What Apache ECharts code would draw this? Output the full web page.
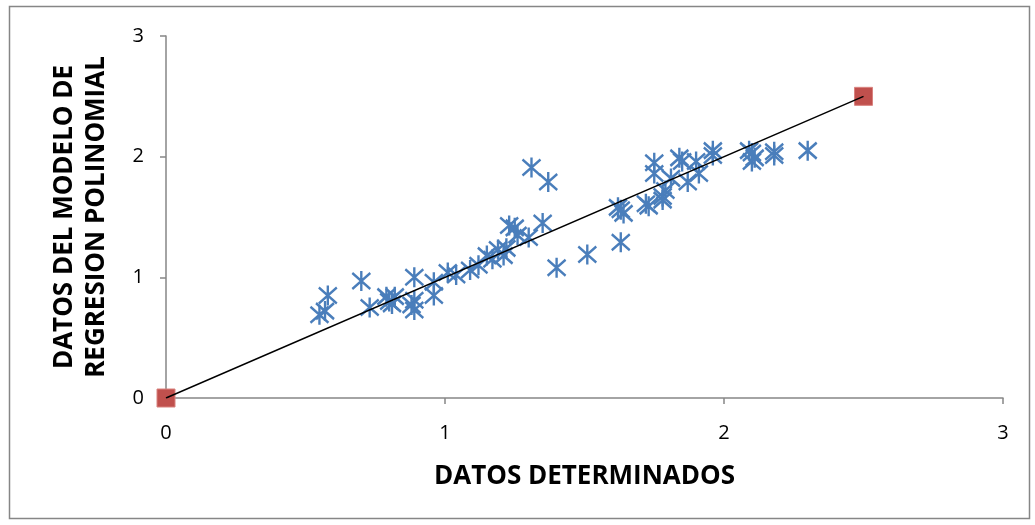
<!DOCTYPE html>
<html>
<head>
<meta charset="utf-8">
<script src="https://cdn.jsdelivr.net/npm/echarts@6/dist/echarts.min.js"></script>
<style>html,body{margin:0;padding:0;background:#fff;}#c{width:1035px;height:525px;}</style>
</head>
<body>
<div id="c"></div>
<script>
const xTitle = 'DATOS DETERMINADOS';
const yTitle = 'DATOS DEL MODELO DE\nREGRESION POLINOMIAL';
const xTicks = [0, 1, 2, 3];
const yTicks = [0, 1, 2, 3];
const xVals = [0.55,0.57,0.58,0.70,0.73,0.79,0.80,0.82,0.81,0.89,0.89,0.89,0.88,0.96,0.96,1.01,1.04,1.09,1.12,1.15,1.17,1.19,1.22,1.21,1.23,1.25,1.26,1.30,1.31,1.37,1.35,1.40,1.51,1.63,1.63,1.64,1.62,1.72,1.73,1.78,1.78,1.79,1.75,1.75,1.81,1.84,1.85,1.87,1.90,1.91,1.96,1.96,2.10,2.10,2.11,2.09,2.18,2.18,2.30];
const yVals = [0.69,0.72,0.85,0.97,0.75,0.84,0.80,0.84,0.78,1.00,0.81,0.73,0.77,0.96,0.85,1.04,1.02,1.06,1.10,1.18,1.15,1.23,1.24,1.18,1.43,1.41,1.35,1.33,1.91,1.79,1.45,1.08,1.19,1.29,1.56,1.53,1.58,1.61,1.59,1.67,1.64,1.72,1.95,1.86,1.82,1.99,1.96,1.79,1.96,1.86,2.05,2.01,2.03,1.96,1.99,2.05,2.04,2.01,2.05];
const lineX = [0, 2.5];
const lineY = [0, 2.5];

const pts = xVals.map((x, i) => [x, yVals[i]]);
const linePts = lineX.map((x, i) => [x, lineY[i]]);

const chart = echarts.init(document.getElementById('c'));
const font = 'Open Sans, Lato, sans-serif';
chart.setOption({
  animation: false,
  backgroundColor: '#fff',
  graphic: [{
    type: 'rect', shape: {x: 9.5, y: 6.5, width: 1020, height: 512},
    style: {fill: 'none', stroke: '#868686', lineWidth: 1.5}, silent: true, z: -1
  }],
  grid: {left: 166, right: 32, top: 36, bottom: 127, containLabel: false},
  xAxis: {
    type: 'value', min: 0, max: 3, interval: 1,
    name: xTitle, nameLocation: 'middle', nameGap: 66,
    nameTextStyle: {fontFamily: font, fontWeight: 'bold', fontSize: 26, color: '#000'},
    axisLine: {show: true, onZero: false, lineStyle: {color: '#868686', width: 1.5}},
    axisTick: {show: true, length: 6, inside: false, lineStyle: {color: '#868686', width: 1.5}},
    axisLabel: {fontFamily: font, fontSize: 20, color: '#000', margin: 25},
    splitLine: {show: false}
  },
  yAxis: {
    type: 'value', min: 0, max: 3, interval: 1,
    name: yTitle, nameLocation: 'middle', nameGap: 53, nameRotate: 90,
    nameTextStyle: {fontFamily: font, fontWeight: 'bold', fontSize: 26, color: '#000', lineHeight: 32},
    axisLine: {show: true, onZero: false, lineStyle: {color: '#868686', width: 1.5}},
    axisTick: {show: true, length: 6, lineStyle: {color: '#868686', width: 1.5}},
    axisLabel: {fontFamily: font, fontSize: 20, color: '#000', margin: 22},
    splitLine: {show: false}
  },
  series: [
    {
      type: 'scatter', data: pts,
      symbol: 'path://M10,0L10,20M1,2L19,18M1,18L19,2',
      symbolSize: [18, 20],
      itemStyle: {color: 'none', borderColor: '#4A7EBB', borderWidth: 2.5, opacity: 1},
      z: 3
    },
    {
      type: 'line', data: linePts, showSymbol: false, symbol: 'none',
      lineStyle: {color: '#000', width: 1.5}, z: 4
    },
    {
      type: 'scatter', data: linePts, symbol: 'rect', symbolSize: 18,
      itemStyle: {color: '#C0504D', borderColor: '#D9827F', borderWidth: 1, opacity: 1}, z: 2
    }
  ]
});
</script>
</body>
</html>
